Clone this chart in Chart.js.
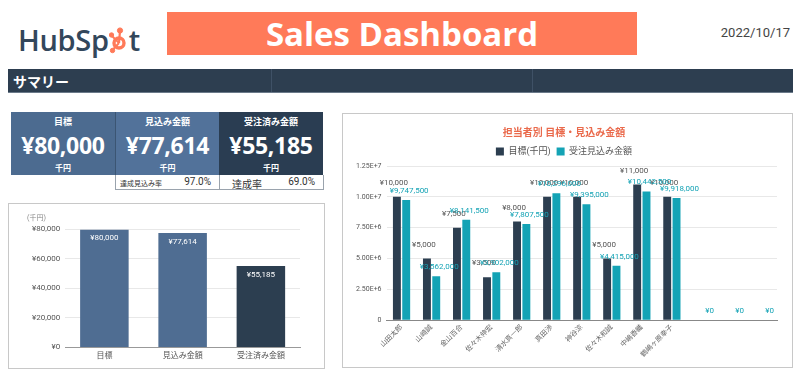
<!DOCTYPE html>
<html>
<head>
<meta charset="utf-8">
<script src="https://cdn.jsdelivr.net/npm/chart.js"></script>
<style>
  html, body { margin: 0; padding: 0; background: #fff; }
  body { width: 800px; height: 375px; position: relative; overflow: hidden;
         font-family: Roboto, 'Noto Sans CJK JP', sans-serif; }
  .abs { position: absolute; }
  #logo { left: 18px; top: 20px; font-family: 'Open Sans', sans-serif; font-weight: 600;
          font-size: 29px; color: #33475b; letter-spacing: -0.3px; white-space: nowrap; }
  #logo svg { vertical-align: -3px; }
  #banner { left: 167px; top: 12px; width: 470px; height: 43px; background: #ff7a59;
            color: #fff; font-family: 'Open Sans', sans-serif; font-weight: 700; font-size: 33px;
            text-align: center; line-height: 43px; }
  #date { left: 700px; top: 25px; width: 90px; text-align: right; font-size: 13px; color: #444; }
  #summaryBar { left: 8px; top: 69px; width: 785px; height: 23px; background: #2d3e50;
                border-bottom: 1px solid #6b7a8a; }
  #summaryBar span { position: absolute; left: 5px; top: 2px; color: #fff; font-weight: 700;
                     font-size: 14px; font-family: 'Noto Sans CJK JP', sans-serif; }
  .sep { position: absolute; top: 0; width: 1px; height: 23px; background: #3f5166; }
  .kpi { top: 112px; width: 104px; height: 63px; color: #fff; text-align: center;
         font-family: 'Noto Sans CJK JP', sans-serif; }
  .kpi .t { position: absolute; left: 0; right: 0; top: 3px; font-size: 9px; font-weight: 700; }
  .kpi .v { position: absolute; left: 0; right: 0; top: 17px; font-size: 23px; font-weight: 700;
            font-family: 'Open Sans', sans-serif; letter-spacing: -0.3px; }
  .kpi .u { position: absolute; left: 0; right: 0; top: 50px; font-size: 8px; font-weight: 700; }
  .rate { top: 175px; width: 103px; height: 14px; border: 1px solid #9aa3ad; border-top: none;
          background: #fff; color: #333; font-family: 'Noto Sans CJK JP', sans-serif; }
  .rate .l { position: absolute; left: 4px; top: 1px; }
  .rate .p { position: absolute; right: 8px; top: 1px; font-size: 10px; font-family: Roboto, sans-serif; }
  .box { border: 1px solid #c8c8c8; background: #fff; }
</style>
</head>
<body>
<div id="logo" class="abs">HubSp<svg width="20" height="28" viewBox="0 0 20 28"><g stroke="#ff7a59" fill="#ff7a59"><line x1="10" y1="17" x2="11" y2="5" stroke-width="2.2"/><line x1="10" y1="17" x2="2.5" y2="9.5" stroke-width="2"/><line x1="10" y1="17" x2="3.5" y2="24" stroke-width="2"/><circle cx="11" cy="4.5" r="2.6"/><circle cx="2.5" cy="9" r="2.2"/><circle cx="3.5" cy="24.5" r="2.2"/><circle cx="10" cy="17" r="5" fill="none" stroke-width="3.4"/></g></svg>t</div>
<div id="banner" class="abs">Sales Dashboard</div>
<div id="date" class="abs">2022/10/17</div>

<div id="summaryBar" class="abs"><span>サマリー</span><div class="sep" style="left:263px"></div><div class="sep" style="left:524px"></div></div>

<div class="kpi abs" style="left:11px;background:#4c6b90;"><div class="t" id="k0t"></div><div class="v" id="k0v"></div><div class="u">千円</div></div>
<div class="kpi abs" style="left:115px;background:#52729a;border-left:1px solid #3b5573;width:103px"><div class="t" id="k1t"></div><div class="v" id="k1v"></div><div class="u">千円</div></div>
<div class="kpi abs" style="left:219px;background:#2a3d52;"><div class="t" id="k2t"></div><div class="v" id="k2v"></div><div class="u">千円</div></div>
<div class="rate abs" style="left:115px;"><span class="l" style="font-size:7px;top:3px">達成見込み率</span><span class="p" id="r1"></span></div>
<div class="rate abs" style="left:219px;"><span class="l" style="font-size:10px;left:12px">達成率</span><span class="p" id="r2"></span></div>

<div class="box abs" style="left:8px;top:203px;width:315px;height:164px;"></div>
<canvas id="summaryChart" class="abs" width="313" height="162" style="left:9px;top:204px;"></canvas>

<div class="box abs" style="left:342px;top:113px;width:449px;height:253px;"></div>
<canvas id="repChart" class="abs" width="447" height="251" style="left:343px;top:114px;"></canvas>

<script>
// summary values (千円)
const summaryLabels = ['目標', '見込み金額', '受注済み金額'];
const summaryValues = [80000, 77614, 55185];
const summaryColors = ['#4f6d92', '#4f6d92', '#2c3e50'];

// per-rep values (円)
const repNames = ['山田太郎', '山崎誠', '金山百合', '佐々木伸宏', '清水真一郎', '真田渉', '神谷涼', '佐々木和誠', '中嶋香織', '鶴嶋ヶ原幸子', '', '', ''];
const targetValues = [10000000, 5000000, 7500000, 3500000, 8000000, 10000000, 10000000, 5000000, 11000000, 10000000, 0, 0, 0];
const forecastValues = [9747500, 3562000, 8141500, 3902000, 7807500, 10296000, 9395000, 4415000, 10442500, 9918000, 0, 0, 0];

const yen = v => '¥' + v.toLocaleString('en-US');

// KPI tiles
summaryLabels.forEach((lab, i) => {
    document.getElementById('k' + i + 't').textContent = lab;
    document.getElementById('k' + i + 'v').textContent = yen(summaryValues[i]);
});
document.getElementById('r1').textContent = (summaryValues[1] / summaryValues[0] * 100).toFixed(1) + '%';
document.getElementById('r2').textContent = (summaryValues[2] / summaryValues[0] * 100).toFixed(1) + '%';

Chart.defaults.font.family = "Roboto, 'Noto Sans CJK JP', sans-serif";
Chart.defaults.animation = false;

// draws value text on top of / inside each bar
const valueLabels = {
    id: 'valueLabels',
    afterDatasetsDraw(chart, args, opts) {
        const ctx = chart.ctx;
        chart.data.datasets.forEach((ds, i) => {
            const cfg = opts.sets[i];
            if (!cfg) return;
            chart.getDatasetMeta(i).data.forEach((bar, j) => {
                const text = cfg.format(ds.data[j]);
                if (text == null) return;
                ctx.save();
                ctx.font = cfg.font;
                ctx.fillStyle = cfg.color;
                ctx.textAlign = 'center';
                if (cfg.inside) {
                    ctx.textBaseline = 'top';
                    ctx.fillText(text, bar.x, bar.y + 5);
                } else {
                    ctx.textBaseline = 'bottom';
                    ctx.fillText(text, bar.x + (cfg.dx || 0), bar.y - cfg.offset);
                }
                ctx.restore();
            });
        });
    }
};

new Chart(document.getElementById('summaryChart').getContext('2d'), {
    type: 'bar',
    data: {
        labels: summaryLabels,
        datasets: [{
            data: summaryValues,
            backgroundColor: summaryColors,
            barPercentage: 1,
            categoryPercentage: 0.62
        }]
    },
    options: {
        responsive: false,
        layout: { padding: { left: 18, right: 22, top: 6, bottom: 1 } },
        plugins: {
            legend: { display: false },
            tooltip: { enabled: false },
            title: { display: true, text: '(千円)', align: 'start', color: '#888',
                     font: { size: 7, weight: 'normal' }, padding: { top: 4, bottom: 7 } },
            valueLabels: { sets: [{ format: yen, font: '8px Roboto', color: '#fff', inside: true }] }
        },
        scales: {
            x: {
                grid: { display: false, drawTicks: false },
                border: { color: '#999' },
                ticks: { color: '#555', font: { size: 8 }, padding: 4 }
            },
            y: {
                min: 0, max: 80000,
                ticks: { stepSize: 20000, callback: v => yen(v), color: '#555', font: { size: 8 }, padding: 5 },
                grid: { color: '#e8e8e8', drawTicks: false },
                border: { display: false }
            }
        }
    },
    plugins: [valueLabels]
});

new Chart(document.getElementById('repChart').getContext('2d'), {
    type: 'bar',
    data: {
        labels: repNames,
        datasets: [
            { label: '目標(千円)', data: targetValues, backgroundColor: '#2c3e50',
              barPercentage: 0.85, categoryPercentage: 0.62 },
            { label: '受注見込み金額', data: forecastValues, backgroundColor: '#14a3b5',
              barPercentage: 0.85, categoryPercentage: 0.62 }
        ]
    },
    options: {
        responsive: false,
        layout: { padding: { left: 8, right: 13, top: 7, bottom: 3 } },
        plugins: {
            tooltip: { enabled: false },
            title: { display: true, text: '担当者別 目標・見込み金額', color: '#ea6a4c',
                     font: { size: 10, weight: 'bold' }, padding: { top: 6, bottom: 2 } },
            legend: { labels: { boxWidth: 8, boxHeight: 8, color: '#555', font: { size: 9 }, padding: 6 } },
            valueLabels: { sets: [
                { format: v => v ? yen(v / 1000) : null, font: '8px Roboto', color: '#555', offset: 10, dx: -3 },
                { format: v => yen(v), font: '8px Roboto', color: '#14a3b5', offset: 5, dx: 3 }
            ] }
        },
        scales: {
            x: {
                grid: { display: false, drawTicks: false },
                border: { color: '#888' },
                ticks: { color: '#666', font: { size: 7 }, maxRotation: 45, minRotation: 45, autoSkip: false, padding: 3 }
            },
            y: {
                min: 0, max: 12500000,
                ticks: { stepSize: 2500000, color: '#555', font: { size: 7 }, padding: 5,
                         callback: v => v === 0 ? '0' : v.toExponential(2).toUpperCase() },
                grid: { color: '#e8e8e8', drawTicks: false },
                border: { display: false }
            }
        }
    },
    plugins: [valueLabels]
});
</script>
</body>
</html>
